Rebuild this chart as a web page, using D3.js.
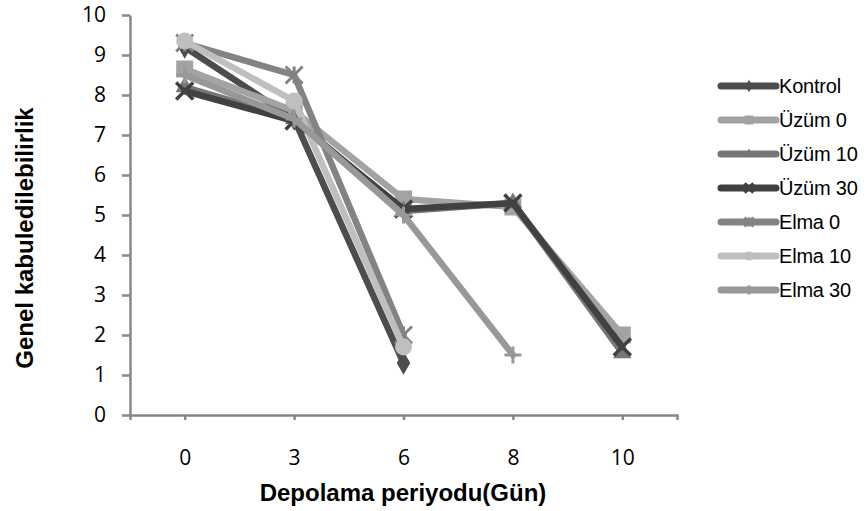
<!DOCTYPE html>
<html>
<head>
<meta charset="utf-8">
<title>Genel kabuledilebilirlik</title>
<script src="https://d3js.org/d3.v7.min.js"></script>
<style>
  body { margin: 0; background: #fff; }
</style>
</head>
<body>
<div id="chart"></div>
<script>
// depolama günleri (kategori ekseni)
const gunler = ["0", "3", "6", "8", "10"];
const yTicks = [0, 1, 2, 3, 4, 5, 6, 7, 8, 9, 10];

// seri değerleri (null = ölçüm yok)
const kontrol = [9.2, 7.4, 1.3, null, null];
const uzum0   = [8.65, 7.6, 5.4, 5.2, 2.0];
const uzum10  = [8.2, 7.4, 5.1, 5.3, 1.55];
const uzum30  = [8.1, 7.35, 5.15, 5.3, 1.7];
const elma0   = [9.3, 8.5, 2.0, null, null];
const elma10  = [9.35, 7.85, 1.7, null, null];
const elma30  = [8.5, 7.4, 5.0, 1.5, null];

const seriAdlari = ["Kontrol", "Üzüm 0", "Üzüm 10", "Üzüm 30", "Elma 0", "Elma 10", "Elma 30"];

const series = [
  {name: seriAdlari[0], values: kontrol, color: "#4d4d4d", sym: "diamond"},
  {name: seriAdlari[1], values: uzum0,   color: "#a3a3a3", sym: "square"},
  {name: seriAdlari[2], values: uzum10,  color: "#767676", sym: "triangle"},
  {name: seriAdlari[3], values: uzum30,  color: "#414141", sym: "x"},
  {name: seriAdlari[4], values: elma0,   color: "#838383", sym: "star"},
  {name: seriAdlari[5], values: elma10,  color: "#bfbfbf", sym: "circle"},
  {name: seriAdlari[6], values: elma30,  color: "#989898", sym: "plus"}
];

const W = 868, H = 511;
const plot = {left: 130, right: 677, top: 15, bottom: 415};

const svg = d3.select("#chart").append("svg")
  .attr("width", W)
  .attr("height", H)
  .style("font-family", "'Liberation Sans', Arial, sans-serif");

const x = d3.scalePoint().domain(gunler).range([plot.left, plot.right]).padding(0.5);
const y = d3.scaleLinear().domain([0, 10]).range([plot.bottom, plot.top]);

const axisColor = "#878787";

// y ekseni
const yAxis = svg.append("g")
  .attr("transform", "translate(" + plot.left + ",0)")
  .call(d3.axisLeft(y).tickValues(yTicks).tickSize(8).tickSizeOuter(0).tickPadding(16));
yAxis.select(".domain").attr("stroke", axisColor).attr("stroke-width", 2.5);
yAxis.selectAll(".tick line").attr("stroke", axisColor).attr("stroke-width", 2.5);
yAxis.selectAll(".tick text")
  .attr("font-family", "'Open Sans', sans-serif")
  .attr("font-size", "21px")
  .attr("fill", "#000");

// x ekseni
const xAxis = svg.append("g")
  .attr("transform", "translate(0," + plot.bottom + ")")
  .call(d3.axisBottom(x).tickSize(5).tickSizeOuter(5).tickPadding(30));
xAxis.select(".domain").attr("stroke", axisColor).attr("stroke-width", 2.5);
xAxis.selectAll(".tick line").attr("stroke", axisColor).attr("stroke-width", 2.5);
xAxis.selectAll(".tick text")
  .attr("font-family", "'Open Sans', sans-serif")
  .attr("font-size", "21px")
  .attr("fill", "#000");

// eksen başlıkları
svg.append("text")
  .attr("transform", "translate(33,238) rotate(-90)")
  .attr("text-anchor", "middle")
  .attr("font-weight", "bold")
  .attr("font-size", "24px")
  .text("Genel kabuledilebilirlik");

svg.append("text")
  .attr("x", 403)
  .attr("y", 501)
  .attr("text-anchor", "middle")
  .attr("font-weight", "bold")
  .attr("font-size", "24px")
  .text("Depolama periyodu(Gün)");

function drawMarker(g, type, color, s) {
  if (type === "diamond") {
    g.append("path").attr("d", d3.symbol(d3.symbolDiamond, s * s * 0.55)()).attr("fill", color);
  } else if (type === "square") {
    g.append("rect").attr("x", -s / 2).attr("y", -s / 2).attr("width", s).attr("height", s).attr("fill", color);
  } else if (type === "triangle") {
    g.append("path").attr("d", d3.symbol(d3.symbolTriangle, s * s * 0.5)()).attr("fill", color);
  } else if (type === "circle") {
    g.append("circle").attr("r", s / 2).attr("fill", color);
  } else if (type === "x") {
    const h = s / 2;
    g.append("path").attr("d", "M" + (-h) + "," + (-h) + "L" + h + "," + h + "M" + (-h) + "," + h + "L" + h + "," + (-h))
      .attr("stroke", color).attr("stroke-width", 3.5).attr("fill", "none");
  } else if (type === "star") {
    const h = s / 2;
    g.append("path").attr("d", "M" + (-h) + "," + (-h) + "L" + h + "," + h + "M" + (-h) + "," + h + "L" + h + "," + (-h) + "M0," + (-h) + "L0," + h)
      .attr("stroke", color).attr("stroke-width", 3).attr("fill", "none");
  } else if (type === "plus") {
    const h = s / 2;
    g.append("path").attr("d", "M" + (-h) + ",0L" + h + ",0M0," + (-h) + "L0," + h)
      .attr("stroke", color).attr("stroke-width", 3).attr("fill", "none");
  }
}

const line = d3.line()
  .defined(d => d.v !== null)
  .x(d => x(d.c))
  .y(d => y(d.v));

series.forEach(s => {
  const pts = gunler.map((c, i) => ({c: c, v: s.values[i]}));
  const g = svg.append("g");
  g.append("path")
    .datum(pts)
    .attr("d", line)
    .attr("fill", "none")
    .attr("stroke", s.color)
    .attr("stroke-width", 6.5)
    .attr("stroke-linejoin", "round")
    .attr("stroke-linecap", "round");
  pts.filter(d => d.v !== null).forEach(d => {
    const m = g.append("g").attr("transform", "translate(" + x(d.c) + "," + y(d.v) + ")");
    drawMarker(m, s.sym, s.color, 17);
  });
});

// lejant
const legend = svg.append("g").attr("transform", "translate(721,86)");
series.forEach((s, i) => {
  const row = legend.append("g").attr("transform", "translate(0," + (i * 34) + ")");
  row.append("line")
    .attr("x1", 0).attr("x2", 55)
    .attr("stroke", s.color).attr("stroke-width", 7).attr("stroke-linecap", "round");
  const m = row.append("g").attr("transform", "translate(28,0)");
  drawMarker(m, s.sym, s.color, 9);
  row.append("text")
    .attr("x", 58)
    .attr("y", 7)
    .attr("font-size", "20px")
    .attr("letter-spacing", "-0.2px")
    .text(s.name);
});
</script>
</body>
</html>
